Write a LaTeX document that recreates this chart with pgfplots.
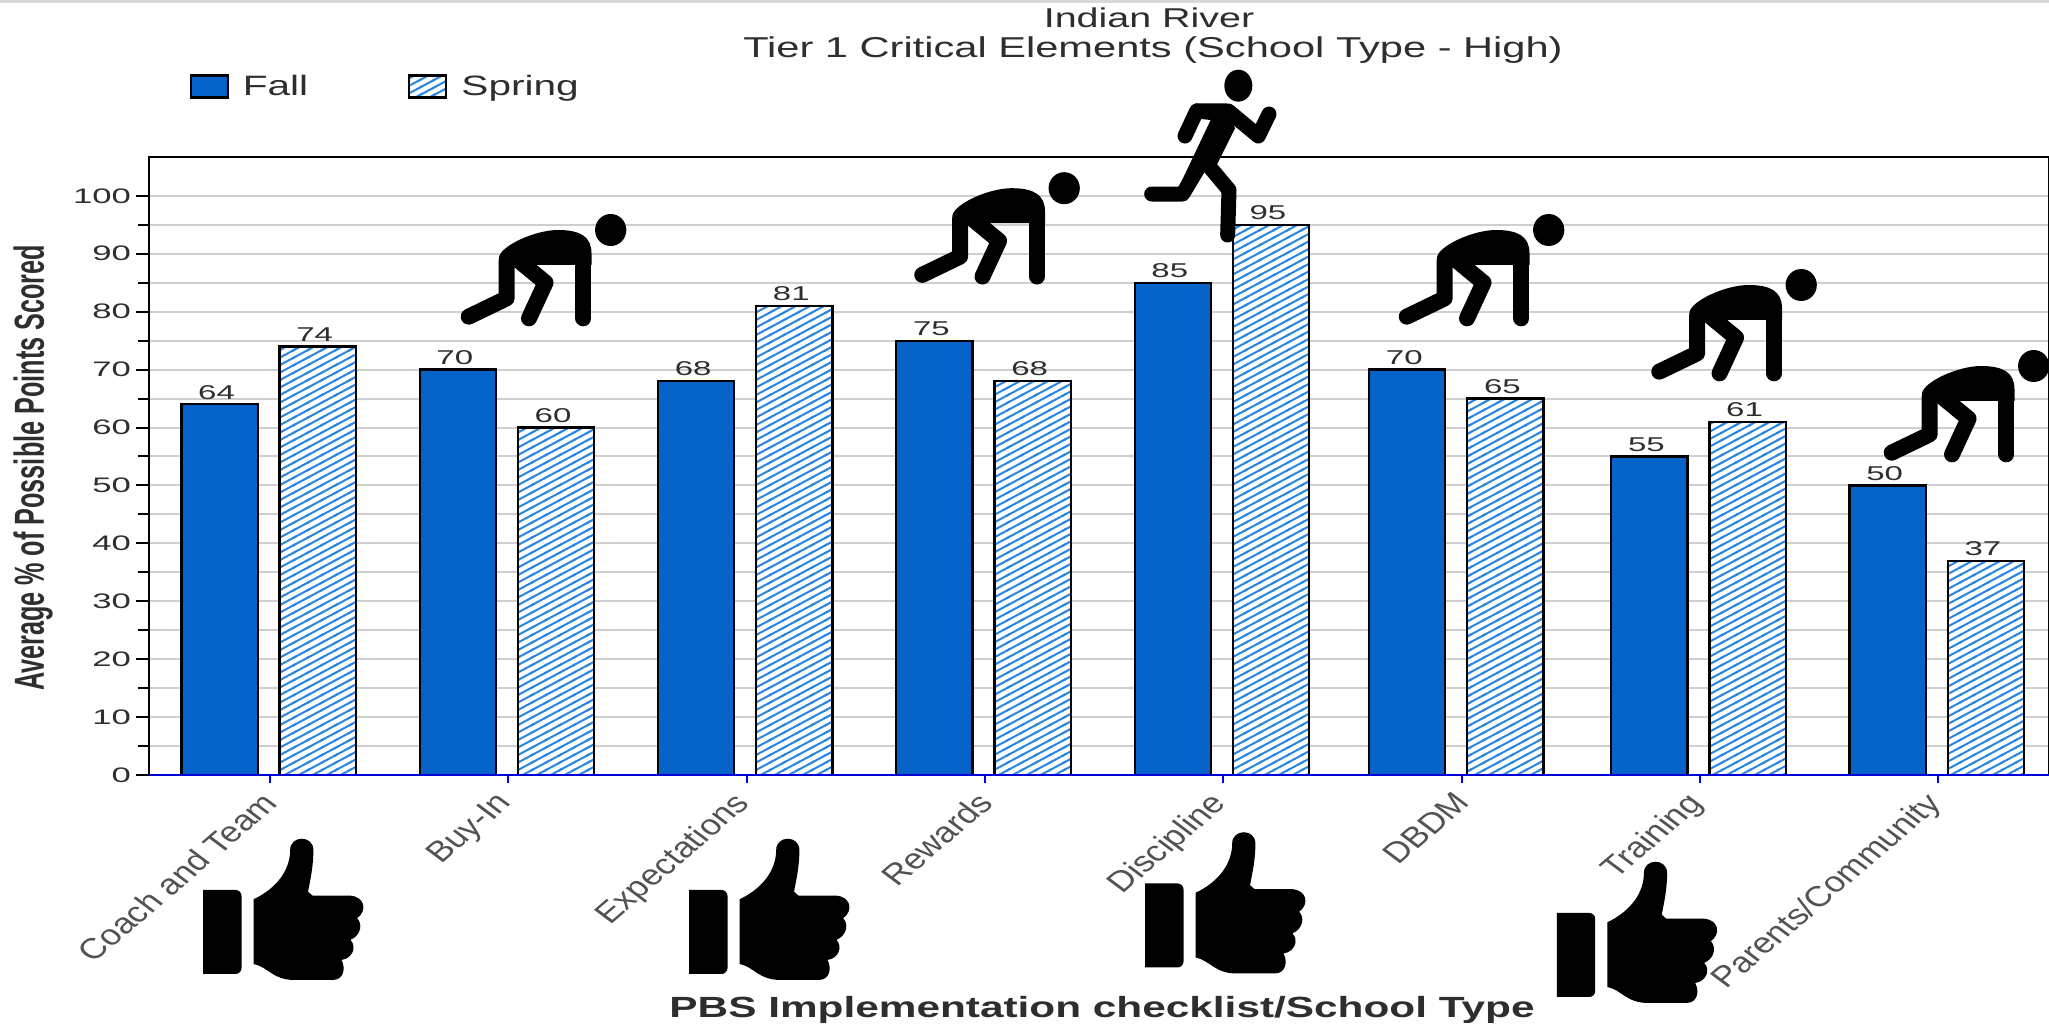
\documentclass[border=0pt]{standalone}
\usepackage{pgfplots}
\pgfplotsset{compat=1.18}
\usepackage{fontspec}
\usetikzlibrary{patterns}
\setmainfont{Liberation Sans}
\newfontfamily\wide[FakeStretch=1.45]{Liberation Sans}
\newfontfamily\wider[FakeStretch=1.65]{Liberation Sans}
\definecolor{fallblue}{HTML}{0563C9}
\definecolor{hatchblue}{HTML}{2A86E0}
\definecolor{txt}{HTML}{2E2E2E}
\definecolor{gridgray}{HTML}{CFCFCF}

% one picture pixel = 0.5pt
\pgfdeclarepatternformonly{hatch}{\pgfqpoint{-1pt}{-1pt}}{\pgfqpoint{8pt}{4.75pt}}{\pgfqpoint{7pt}{3.75pt}}{%
  \pgfsetlinewidth{1pt}%
  \pgfpathmoveto{\pgfqpoint{-1pt}{-0.5357pt}}%
  \pgfpathlineto{\pgfqpoint{8pt}{4.2857pt}}%
  \pgfusepath{stroke}}

\newcommand\xl[1]{\scalebox{1.25}[1]{\rotatebox{47}{#1}}}

% pictograms, traced in crop coordinates
\newcommand\crouch[2]{%
  \begin{scope}[x=0.5pt/2.24,y=-0.5pt/3,xshift=#1*0.5pt,yshift=-#2*0.5pt]
    \fill (1368,690) ellipse[x radius=35,y radius=48];
    \fill (1118,770) .. controls (1125,735) and (1200,690) .. (1250,690)
      .. controls (1300,690) and (1325,710) .. (1325,760) -- (1325,795) -- (1118,795) -- cycle;
    \draw[line width=8pt, line cap=round, line join=round] (1307,770) -- (1307,955);
    \draw[line width=8pt, line cap=round, line join=round] (1135,780) -- (1135,895) -- (1050,950);
    \draw[line width=8pt, line cap=round, line join=round] (1165,785) -- (1222,848) -- (1185,955);
  \end{scope}}
\newcommand\runner{%
  \begin{scope}[x=0.5pt/3,y=-0.5pt/3,xshift=550pt,yshift=-25pt]
    \fill (415,107) ellipse[x radius=42,y radius=48];
    \fill (285,160) -- (380,160) -- (405,235) -- (350,345) -- (305,365) -- (268,440)
      -- (238,408) -- (332,210) -- (285,205) -- cycle;
    \draw[line width=7.5pt, line cap=round, line join=round] (290,183) -- (255,258);
    \draw[line width=7.5pt, line cap=round, line join=round] (385,183) -- (475,258) -- (507,192);
    \draw[line width=7.5pt, line cap=round, line join=round] (300,345) -- (248,432) -- (155,432);
    \draw[line width=7.5pt, line cap=round, line join=round] (320,340) -- (387,420) -- (383,555);
  \end{scope}}
\newcommand\thumb[2]{%
  \begin{scope}[x=0.5pt/2.24,y=-0.5pt/3,xshift=#1*0.5pt,yshift=-#2*0.5pt]
    \fill (455,2670) [rounded corners=3pt] -- (541,2670) -- (541,2922) [sharp corners] -- (455,2922) -- cycle;
    \fill (568,2698) .. controls (620,2665) and (650,2610) .. (650,2550)
      .. controls (650,2505) and (702,2505) .. (702,2550)
      .. controls (702,2600) and (695,2640) .. (690,2675)
      -- (700,2687) -- (785,2687) .. controls (815,2690) and (825,2730) .. (800,2755)
      .. controls (812,2770) and (810,2805) .. (785,2820)
      .. controls (800,2840) and (790,2875) .. (765,2880)
      .. controls (775,2905) and (770,2940) .. (745,2940)
      -- (660,2940) .. controls (610,2940) and (600,2900) .. (568,2892) -- cycle;
  \end{scope}}

\pgfplotstableread{
x fall spring
0 64 74
1 70 60
2 68 81
3 75 68
4 85 95
4.984 70 65
6 55 61
7 50 37
}\scores

\begin{document}
\begin{tikzpicture}
\useasboundingbox (0,0) rectangle (1024.5pt,-512.5pt);
\fill[white] (0,0) rectangle (1024.5pt,-512.5pt);
\fill[black!15] (0,0) rectangle (1024.5pt,-1.5pt);
\begin{axis}[
    at={(74.5pt,-387.5pt)}, anchor=south west,
    scale only axis, width=950pt, height=309pt,
    xmin=-0.508, xmax=7.465, ymin=0, ymax=106.7,
    ybar, bar width=0.32,
    xtick={0,...,7},
    xticklabels={\xl{Coach and Team},\xl{Buy-In},\xl{Expectations},\xl{Rewards},\xl{Discipline},\xl{DBDM},\xl{Training},\xl{Parents/Community}},
    xticklabel style={anchor=north east, inner sep=0pt, xshift=5pt, yshift=-1pt, text=black!68, font=\fontsize{14.4}{16}\selectfont},
    ytick={0,10,...,100}, minor ytick={5,15,...,95},
    /pgf/number format/assume math mode=true,
    yticklabel style={font=\wider\fontsize{10.5}{12}\selectfont, text=txt, xshift=1pt},
    tick align=outside, xtick pos=bottom, ytick pos=left,
    major tick length=6.5pt, minor tick length=5.5pt,
    xtick style={blue, /pgfplots/major tick length=4pt, line width=1pt},
    ytick style={black, line width=1pt},
    minor tick style={black, line width=1pt},
    ymajorgrids, yminorgrids,
    major grid style={gridgray, line width=1pt},
    minor grid style={gridgray, line width=1pt},
    axis line style={black, line width=0.9pt},
    nodes near coords,
    every node near coord/.append style={font=\wider\fontsize{10}{12}\selectfont, text=txt, inner xsep=0pt, inner ysep=2pt, xshift=-1.5pt},
    legend style={at={(0.018,1.114)}, anchor=west, draw=none, fill=none, legend columns=-1,
      font=\wide\fontsize{14}{16}\selectfont, text=txt,
      /tikz/column 1/.style={column sep=5pt},
      /tikz/column 2/.style={column sep=48pt},
      /tikz/column 3/.style={column sep=5pt}},
    legend image code/.code={\draw[#1] (0pt,-5.5pt) rectangle (18.5pt,5.5pt);},
]
\addplot[bar shift=-0.212, fill=fallblue, draw=black, line width=1.1pt] table[x=x,y=fall] {\scores};
\addplot[bar shift=0.2, fill=white, draw=black, line width=1.1pt, postaction={pattern=hatch, pattern color=hatchblue}] table[x=x,y=spring] {\scores};
\legend{Fall,Spring}
\draw[blue!85!black, line width=1.1pt] (rel axis cs:0,0) -- (rel axis cs:1,0);
\end{axis}

\node[font=\wide\fontsize{13.6}{15}\selectfont, text=txt] at (574.5pt,-9pt) {Indian River};
\node[font=\wide\fontsize{14.35}{15}\selectfont, text=txt] at (576.5pt,-25pt) {Tier 1 Critical Elements (School Type - High)};
\node[rotate=90, font=\bfseries\fontsize{21}{24}\selectfont, text=txt] at (16.5pt,-234pt) {\scalebox{0.6}[1]{Average \% of Possible Points Scored}};
\node[font=\wide\bfseries\fontsize{14.6}{16}\selectfont, text=txt] at (551pt,-505pt) {PBS Implementation checklist/School Type};

\crouch{0}{0}
\crouch{453.5}{-41.8}
\crouch{938}{0}
\crouch{1190.5}{55}
\crouch{1423}{136}
\runner
\thumb{0}{0}
\thumb{486}{0}
\thumb{942}{-6.5}
\thumb{1353.7}{23}
\end{tikzpicture}
\end{document}
